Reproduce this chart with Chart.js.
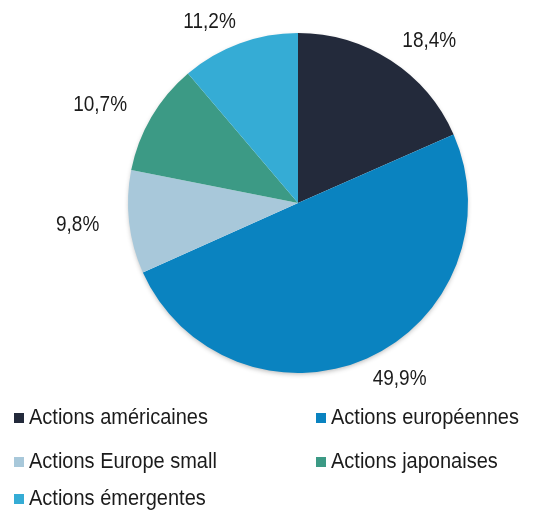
<!DOCTYPE html>
<html>
<head>
<meta charset="utf-8">
<script src="https://cdn.jsdelivr.net/npm/chart.js@4"></script>
<style>
  html, body { margin: 0; padding: 0; background: #fff; }
  #wrap { width: 539px; height: 511px; position: relative; }
</style>
</head>
<body>
<div id="wrap"><canvas id="pieChart" width="539" height="511"></canvas></div>
<script>
// Données du graphique
const categories = ['Actions américaines', 'Actions européennes', 'Actions Europe small', 'Actions japonaises', 'Actions émergentes'];
const valeurs = [18.4, 49.9, 9.8, 10.7, 11.2];
const couleurs = ['#232a3b', '#0a83c0', '#a8c8da', '#3c9a85', '#35acd5'];
const couleursCentre = ['#232a3b', '#0a83c0', '#a8c8da', '#3a9482', '#2a8db0'];

const FONT = '"Liberation Sans", Arial, sans-serif';
const STRETCH = 1.12; // texte un peu étiré verticalement comme l'original

function texte(ctx, str, x, y, align) {
    ctx.save();
    ctx.translate(x, y);
    ctx.scale(1, STRETCH);
    ctx.textAlign = align;
    ctx.textBaseline = 'middle';
    ctx.fillText(str, 0, 0);
    ctx.restore();
}

// Etiquettes de pourcentage autour du camembert (placement type "bord extérieur")
const etiquettes = {
    id: 'etiquettes',
    afterDatasetsDraw(chart) {
        const ctx = chart.ctx;
        const meta = chart.getDatasetMeta(0);
        ctx.save();
        ctx.fillStyle = '#1b1b1b';
        ctx.font = '19px ' + FONT;
        meta.data.forEach((arc, i) => {
            const p = arc.getProps(['x', 'y', 'startAngle', 'endAngle', 'outerRadius'], true);
            const a = (p.startAngle + p.endAngle) / 2;
            const str = valeurs[i].toFixed(1).replace('.', ',') + '%';
            const demiL = ctx.measureText(str).width / 2 + 2;
            const demiH = 11;
            const r = p.outerRadius + 12;
            const lx = p.x + Math.cos(a) * (r + demiL) + Math.sign(Math.cos(a)) * 16;
            const ly = p.y + Math.sin(a) * (r + demiH);
            texte(ctx, str, lx, ly, 'center');
        });
        ctx.restore();
    }
};

// Légende en deux colonnes
const legende = {
    id: 'legende',
    afterDraw(chart) {
        const ctx = chart.ctx;
        const colX = [14, 316];
        const rowY = [418, 462, 499];
        ctx.save();
        ctx.font = '20px ' + FONT;
        categories.forEach((c, i) => {
            const x = colX[i % 2];
            const y = rowY[Math.floor(i / 2)];
            ctx.fillStyle = couleurs[i];
            ctx.fillRect(x, y - 5, 10, 10);
            ctx.fillStyle = '#1b1b1b';
            texte(ctx, c, x + 15, y, 'left');
        });
        ctx.restore();
    }
};

// Ombre légère sous le camembert
const ombre = {
    id: 'ombre',
    beforeDatasetsDraw(chart) {
        const arc = chart.getDatasetMeta(0).data[0];
        if (!arc) return;
        const ctx = chart.ctx;
        ctx.save();
        ctx.shadowColor = 'rgba(0,0,0,0.3)';
        ctx.shadowBlur = 5;
        ctx.shadowOffsetY = 2;
        ctx.fillStyle = '#fff';
        ctx.beginPath();
        ctx.arc(arc.x, arc.y, arc.outerRadius - 1, 0, Math.PI * 2);
        ctx.fill();
        ctx.restore();
    }
};

const ctxPie = document.getElementById('pieChart').getContext('2d');
new Chart(ctxPie, {
    type: 'pie',
    data: {
        labels: categories,
        datasets: [{
            data: valeurs,
            backgroundColor: (c) => {
                const i = c.dataIndex;
                const arc = c.chart.getDatasetMeta(0).data[i];
                if (!arc || arc.outerRadius === undefined || couleurs[i] === couleursCentre[i]) return couleurs[i];
                const g = c.chart.ctx.createRadialGradient(arc.x, arc.y, 0, arc.x, arc.y, arc.outerRadius);
                g.addColorStop(0, couleursCentre[i]);
                g.addColorStop(1, couleurs[i]);
                return g;
            },
            borderWidth: 0
        }]
    },
    options: {
        responsive: false,
        animation: false,
        layout: {
            padding: { top: 33, bottom: 138, left: 128, right: 71 }
        },
        plugins: {
            legend: { display: false },
            tooltip: { enabled: false }
        }
    },
    plugins: [ombre, etiquettes, legende]
});
</script>
</body>
</html>
